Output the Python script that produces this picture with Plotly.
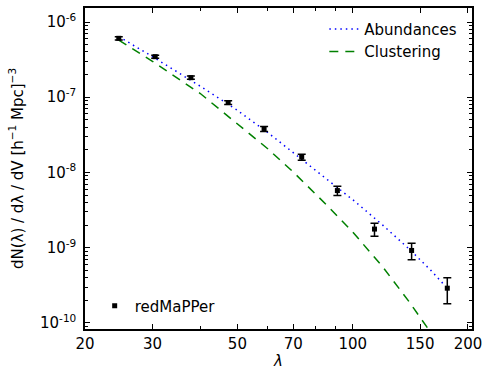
import plotly.graph_objects as go

# redMaPPer measurements
lam_data = [24.5, 30.5, 37.8, 47.3, 58.7, 73.6, 91.2, 114, 142.5, 176.6]
n_data = [6.07e-7, 3.46e-7, 1.82e-7, 8.5e-8, 3.8e-8, 1.6e-8, 5.75e-9, 1.77e-9, 9.2e-10, 2.9e-10]
n_err = [0.3e-7, 0.16e-7, 0.09e-7, 0.5e-8, 0.3e-8, 0.15e-8, 0.8e-9, 0.35e-9, 2.3e-10, 1.1e-10]

# model curves
lam_abund = [24.5, 30, 40, 49.8, 60, 75, 101.4, 120, 141.1, 160, 177.7]
n_abund = [6.4e-7, 3.47e-7, 1.40e-7, 6.78e-8, 3.4e-8, 1.40e-8, 4.11e-9, 1.98e-9, 9.4e-10, 5.0e-10, 2.8e-10]

lam_clust = [24.5, 30, 40, 48.7, 60, 70, 85.5, 100, 120, 140, 156, 175]
n_clust = [5.75e-7, 3.0e-7, 1.12e-7, 5.0e-8, 2.07e-8, 1.01e-8, 3.7e-9, 1.62e-9, 5.5e-10, 1.95e-10, 9.1e-11, 3.9e-11]

x_ticks = [20, 30, 50, 70, 100, 150, 200]
x_minor = [40, 60, 80, 90]
y_ticks = [1e-10, 1e-9, 1e-8, 1e-7, 1e-6]
y_ticktext = ['10<sup>-10</sup>', '10<sup>-9</sup>', '10<sup>-8</sup>', '10<sup>-7</sup>', '10<sup>-6</sup>']
y_minor = [k * 10.0 ** e for e in range(-11, -5) for k in range(2, 10)]

FONT = 'DejaVu Sans'

fig = go.Figure()

fig.add_trace(go.Scatter(
    x=lam_abund, y=n_abund, mode='lines', name='Abundances',
    line=dict(color='#0000ff', width=1.5, dash='1.5px,4px'),
    legend='legend',
))
fig.add_trace(go.Scatter(
    x=lam_clust, y=n_clust, mode='lines', name='Clustering',
    line=dict(color='#008000', width=1.5, dash='9px,7px'),
    legend='legend',
))
fig.add_trace(go.Scatter(
    x=lam_data, y=n_data, mode='markers', name='redMaPPer',
    marker=dict(symbol='square', size=5, color='black'),
    error_y=dict(type='data', array=n_err, visible=True, color='black', thickness=1.5, width=4),
    legend='legend2',
))

fig.update_layout(
    width=493, height=385,
    margin=dict(l=85, r=21, t=8, b=56, autoexpand=False),
    plot_bgcolor='white', paper_bgcolor='white',
    font=dict(family=FONT, size=15, color='black'),
    legend=dict(x=0.975, y=0.985, xanchor='right', yanchor='top', bgcolor='rgba(0,0,0,0)',
                font=dict(size=15), tracegroupgap=0),
    legend2=dict(x=0.025, y=0.02, xanchor='left', yanchor='bottom', bgcolor='rgba(0,0,0,0)',
                 font=dict(size=15)),
)

fig.update_xaxes(
    type='log', range=[1.30103, 2.3115],
    tickmode='array', tickvals=x_ticks, ticktext=[str(v) for v in x_ticks],
    ticks='inside', ticklen=5, tickwidth=1, tickcolor='black',
    minor=dict(tickmode='array', tickvals=x_minor, ticks='inside', ticklen=3, tickcolor='black'),
    showline=True, linecolor='black', linewidth=1.5, mirror='allticks',
    showgrid=False, zeroline=False,
    title=dict(text='<i>λ</i>', font=dict(size=15), standoff=4),
)
fig.update_yaxes(
    type='log', range=[-10.08, -5.814],
    tickmode='array', tickvals=y_ticks, ticktext=y_ticktext,
    ticks='inside', ticklen=5, tickwidth=1, tickcolor='black', ticklabelstandoff=4,
    minor=dict(tickmode='array', tickvals=y_minor, ticks='inside', ticklen=3, tickcolor='black'),
    showline=True, linecolor='black', linewidth=1.5, mirror='allticks',
    showgrid=False, zeroline=False,
    title=dict(text='dN(λ) / dλ / dV [h<sup>−1</sup> Mpc]<sup>−3</sup>', font=dict(size=15), standoff=13),
)

fig.write_html("out.html", config={'displayModeBar': False},
               post_script="document.body.style.margin='0';")
